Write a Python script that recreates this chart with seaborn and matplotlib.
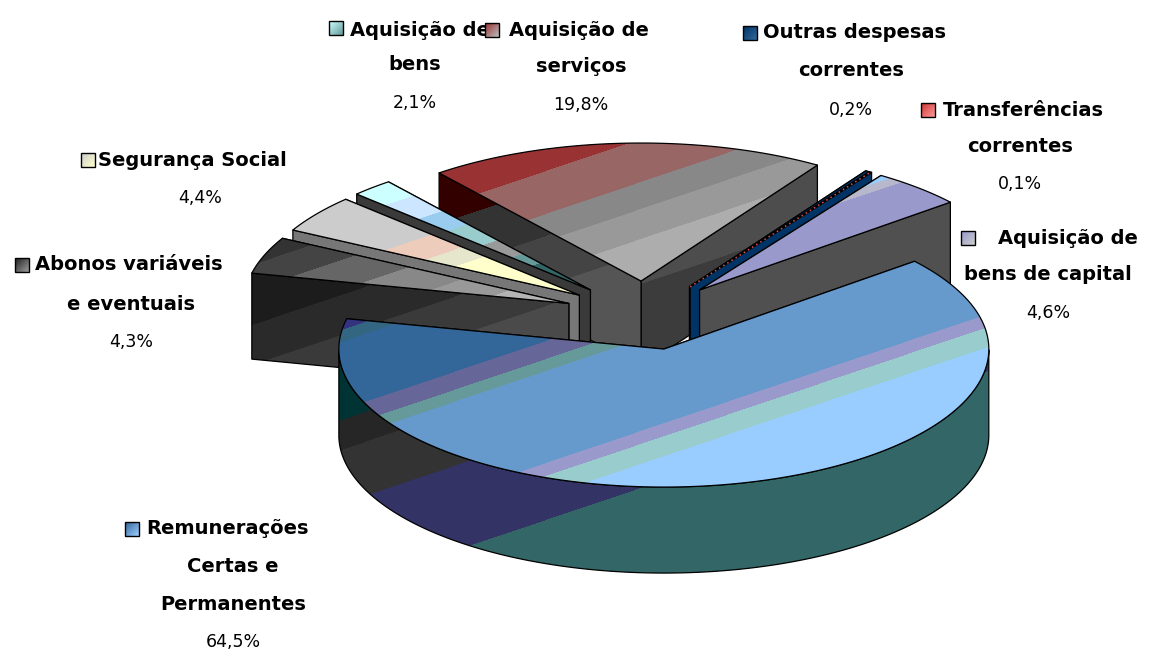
import numpy as np
import matplotlib
matplotlib.use("Agg")
import matplotlib.pyplot as plt
from matplotlib.colors import ListedColormap, BoundaryNorm, LinearSegmentedColormap
from matplotlib.patches import Polygon, Rectangle
import seaborn as sns

# Budget shares, clockwise from the largest slice
categories = [
    "Remunerações Certas e Permanentes",
    "Abonos variáveis e eventuais",
    "Segurança Social",
    "Aquisição de bens",
    "Aquisição de serviços",
    "Outras despesas correntes",
    "Transferências correntes",
    "Aquisição de bens de capital",
]
shares = [64.5, 4.3, 4.4, 2.1, 19.8, 0.2, 0.1, 4.6]

sns.set_theme(style="white")

W, H = 1163, 653
CX, CY = 645.0, 315.5      # pie centre
RX, RY = 325.0, 138.0      # radii of the tilted disc
DEPTH = 86.0               # height of the extrusion
EXPLODE = 0.25
START = 39.5               # first slice edge, degrees
SLOPE = 0.337              # tilt of the colour bands
INF = 1e5

# Colour bands: (upper limit along the band axis, colour)
face_bands = {
    categories[0]: [(445, "#333380"), (457, "#336680"), (525, "#336699"), (543, "#666699"),
                    (555, "#669999"), (647, "#6699cc"), (660, "#9999cc"), (680, "#99cccc"),
                    (INF, "#99ccff")],
    categories[1]: [(350, "#333333"), (375, "#444444"), (405, "#666666"), (435, "#888888"),
                    (462, "#999999"), (INF, "#b4b4b4")],
    categories[2]: [(380, "#cccccc"), (403, "#eeccbb"), (420, "#e6e6cc"), (INF, "#ffffcc")],
    categories[3]: [(335, "#ccffff"), (360, "#cce6ff"), (382, "#99ccee"), (408, "#99cccc"),
                    (430, "#999999"), (445, "#669999"), (INF, "#336666")],
    categories[4]: [(355, "#993333"), (398, "#996666"), (425, "#888888"), (455, "#999999"),
                    (INF, "#adadad")],
    categories[5]: [(INF, "#003366")],
    categories[6]: [(INF, "#cc3333")],
    categories[7]: [(478, "#99ccff"), (486, "#b8b8cc"), (INF, "#9999cc")],
}
wall_bands = {
    categories[0]: [(535, "#003333"), (565, "#262626"), (619, "#333333"), (704, "#333366"),
                    (INF, "#336666")],
    categories[1]: [(410, "#1c1c1c"), (450, "#2a2a2a"), (490, "#3a3a3a"), (INF, "#4a4a4a")],
    categories[2]: [(INF, "#777777")],
    categories[3]: [(INF, "#3a3a3a")],
    categories[4]: [(372, "#330000"), (420, "#333333"), (470, "#444444"), (INF, "#555555")],
    categories[5]: [(INF, "#003366")],
    categories[6]: [(INF, "#003366")],
    categories[7]: [(INF, "#505050")],
}
# The right-hand flank of the services slice darkens towards the centre
services_right_wall = [(500, "#4d4d4d"), (INF, "#3c3c3c")]

# Swatch gradient ends
swatches = {
    categories[0]: ("#336699", "#99ccff"),
    categories[1]: ("#222222", "#999999"),
    categories[2]: ("#cccccc", "#ffffcc"),
    categories[3]: ("#ccffff", "#669999"),
    categories[4]: ("#993333", "#bbbbbb"),
    categories[5]: ("#003366", "#336699"),
    categories[6]: ("#cc3333", "#ff9999"),
    categories[7]: ("#9999cc", "#cccccc"),
}

fig = plt.figure(figsize=(W / 100, H / 100), dpi=100, facecolor="white")
ax = fig.add_axes([0, 0, 1, 1])
ax.set_axis_off()

xx, yy = np.meshgrid(np.arange(W) + 0.5, np.arange(H) + 0.5)
band_axis = yy + SLOPE * xx


def filled(points, bands, z):
    """Fill a polygon with diagonal colour bands and a black outline."""
    limits = [-INF] + [b[0] for b in bands]
    img = ax.imshow(band_axis, extent=(0, W, H, 0), aspect="auto", interpolation="nearest",
                    cmap=ListedColormap([b[1] for b in bands]),
                    norm=BoundaryNorm(limits, len(bands)), zorder=z)
    clip = Polygon(points, closed=True, transform=ax.transData)
    img.set_clip_path(clip)
    ax.add_patch(Polygon(points, closed=True, fill=False, edgecolor="black", linewidth=0.9,
                         joinstyle="round", zorder=z + 0.01))


def on_rim(apex, deg):
    r = np.radians(deg)
    return np.array([apex[0] + RX * np.cos(r), apex[1] - RY * np.sin(r)])


def slice_apex(t_from, t_to):
    mid = np.radians((t_from + t_to) / 2)
    return np.array([CX + EXPLODE * RX * np.cos(mid), CY - EXPLODE * RY * np.sin(mid)])


def draw_slice(name, t_from, t_to, z):
    """One exploded slice running clockwise from t_from to t_to (degrees)."""
    apex = slice_apex(t_from, t_to)
    down = np.array([0, DEPTH])

    # the edge further back goes first, the nearer one covers it
    flanks = sorted([t_from, t_to], key=lambda t: -np.sin(np.radians(t)))
    for i, t in enumerate(flanks):
        rim = on_rim(apex, t)
        bands = wall_bands[name]
        if name == categories[4] and t == t_to:
            bands = services_right_wall
        filled([apex, rim, rim + down, apex + down], bands, z + 0.1 * i)

    # visible part of the curved side
    angles = np.linspace(t_from, t_to, 240)
    front = [a for a in angles if np.sin(np.radians(a)) <= 0]
    if front:
        top = np.array([on_rim(apex, a) for a in front])
        filled(np.vstack([top, (top + down)[::-1]]), wall_bands[name], z + 0.3)

    rim_pts = np.array([on_rim(apex, a) for a in angles])
    filled(np.vstack([apex, rim_pts]), face_bands[name], z + 0.5)


# Slice extents in degrees, normalised over the total
sweep = 360.0 * np.array(shares) / np.sum(shares)
edges = START - np.concatenate([[0], np.cumsum(sweep)])

# Paint from the back of the pie forward
paint_order = [4, 3, 2, 1, 5, 6, 7, 0]
for depth_rank, idx in enumerate(paint_order):
    draw_slice(categories[idx], edges[idx], edges[idx + 1], 2 + depth_rank)

# The sliver for transfers is thinner than its outline: trace it in red
tr_apex = slice_apex(edges[6], edges[7])
tr_rim = on_rim(tr_apex, (edges[6] + edges[7]) / 2)
ax.plot([tr_apex[0], tr_rim[0]], [tr_apex[1], tr_rim[1]], color="#e05050", linewidth=1.1,
        linestyle=(0, (1, 2.2)), zorder=7.8)

# Data labels: first line, swatch, continuation lines and percentage
BOLD = dict(family="DejaVu Sans", fontweight="bold", fontsize=14, color="black", va="center")
PLAIN = dict(family="DejaVu Sans", fontsize=12.5, color="black", va="center")


def pct(value):
    return f"{value:.1f}%".replace(".", ",")


def swatch(x, y, name):
    cmap = LinearSegmentedColormap.from_list("key", sns.blend_palette(swatches[name], 8))
    s = 7
    gx, gy = np.meshgrid(np.linspace(0, 1, 14), np.linspace(0, 1, 14))
    ax.imshow(gx + gy, extent=(x - s, x + s, y + s, y - s), aspect="auto", cmap=cmap,
              interpolation="nearest", zorder=31)
    ax.add_patch(Rectangle((x - s, y - s), 2 * s, 2 * s, fill=False, edgecolor="black",
                           linewidth=1.0, zorder=32))


# name index, swatch x/y, first line x, first line text, other lines, centre x, line ys
labels = [
    (3, 336, 28, 350, "Aquisição de", ["bens"], 415, [30, 65, 103]),
    (4, 492, 30, 509, "Aquisição de", ["serviços"], 581, [30, 67, 105]),
    (5, 750, 33, 763, "Outras despesas", ["correntes"], 851, [33, 71, 110]),
    (6, 928, 110, 943, "Transferências", ["correntes"], 1020, [110, 147, 184]),
    (7, 968, 238, 998, "Aquisição de", ["bens de capital"], 1048, [238, 275, 313]),
    (2, 88, 160, 98, "Segurança Social", [], 200, [160, 198]),
    (1, 22, 265, 35, "Abonos variáveis", ["e eventuais"], 131, [265, 305, 342]),
    (0, 132, 529, 146, "Remunerações", ["Certas e", "Permanentes"], 233, [529, 567, 605, 642]),
]
for idx, kx, ky, tx, first, rest, cx, ys in labels:
    swatch(kx, ky, categories[idx])
    ax.text(tx, ys[0], first, ha="left", zorder=30, **BOLD)
    for line, y in zip(rest, ys[1:-1]):
        ax.text(cx, y, line, ha="center", zorder=30, **BOLD)
    ax.text(cx, ys[-1], pct(shares[idx]), ha="center", zorder=30, **PLAIN)

ax.set_xlim(0, W)
ax.set_ylim(H, 0)
fig.savefig("out.png", dpi=100, facecolor="white")
